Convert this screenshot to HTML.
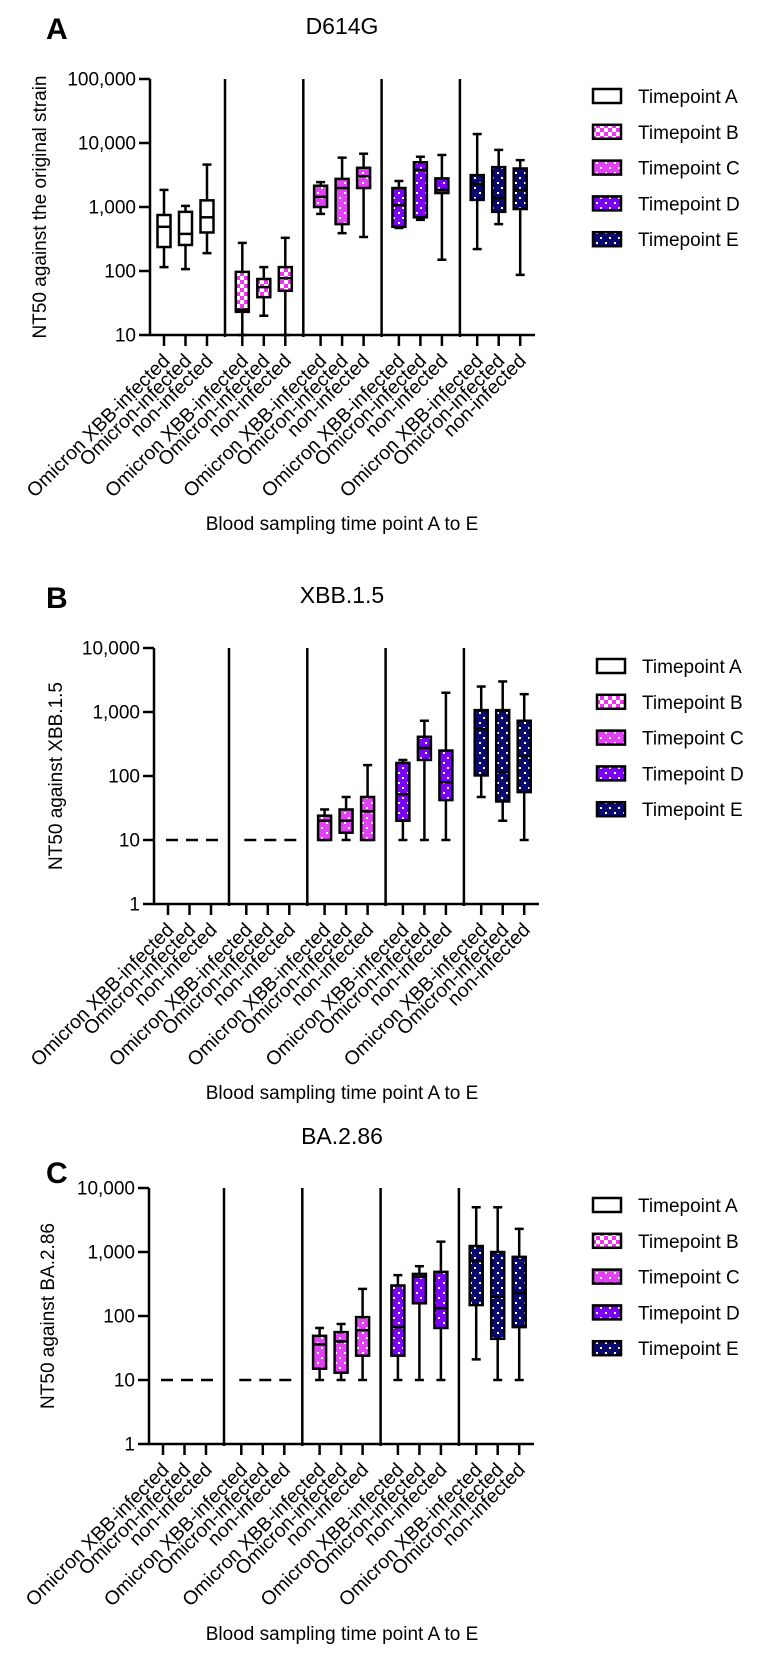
<!DOCTYPE html>
<html><head><meta charset="utf-8"><style>
html,body{margin:0;padding:0;background:#fff;}
svg{display:block;font-family:"Liberation Sans",Arial,sans-serif;}
</style></head><body>
<svg id="chart" width="764" height="1659" viewBox="0 0 764 1659" xmlns="http://www.w3.org/2000/svg">
<defs>
<pattern id="pat-checker" width="8" height="8" patternUnits="userSpaceOnUse">
<rect width="8" height="8" fill="#ffffff"/><rect width="4" height="4" fill="#f233f2"/><rect x="4" y="4" width="4" height="4" fill="#f233f2"/>
</pattern>
<pattern id="pat-c" width="9" height="10" patternUnits="userSpaceOnUse">
<rect width="9" height="10" fill="#e142f3"/><rect x="2" y="2" width="2" height="2" fill="#fff"/><rect x="6" y="7" width="2" height="2" fill="#fff"/>
</pattern>
<pattern id="pat-d" width="9" height="10" patternUnits="userSpaceOnUse">
<rect width="9" height="10" fill="#7a00f5"/><rect x="2" y="2" width="2" height="2" fill="#fff"/><rect x="6" y="7" width="2" height="2" fill="#fff"/>
</pattern>
<pattern id="pat-e" width="9" height="10" patternUnits="userSpaceOnUse">
<rect width="9" height="10" fill="#08086e"/><rect x="2" y="2" width="2" height="2" fill="#fff"/><rect x="6" y="7" width="2" height="2" fill="#fff"/>
</pattern>
</defs>
</svg>
<script>
// ---- data ----
const categories = ["Omicron XBB-infected","Omicron-infected","non-infected"];
const timepoints = ["Timepoint A","Timepoint B","Timepoint C","Timepoint D","Timepoint E"];
const panelLetters = ["A","B","C"];
const panelTitles = ["D614G","XBB.1.5","BA.2.86"];
const yTitles = ["NT50 against the original strain","NT50 against XBB.1.5","NT50 against BA.2.86"];
const xTitle = "Blood sampling time point A to E";
const tickLabelsA = ["10","100","1,000","10,000","100,000"];
const tickLabelsBC = ["1","10","100","1,000","10,000"];
const detectionLimit = 10;
// each box: [min, q1, median, q3, max]; null = below detection (dashed line)
const panelA = [
 [[115,237,490,750,1850],[107,255,380,840,1040],[190,400,690,1270,4600]],
 [[10,23,25,97,275],[20,39,56,75,115],[10,49,77,115,330]],
 [[780,1000,1440,2150,2450],[390,540,1980,2750,5900],[340,1980,3030,4100,6800]],
 [[470,490,1070,1980,2550],[630,690,3800,5000,6100],[150,1650,1850,2800,6500]],
 [[220,1290,2300,3150,13800],[540,840,1380,4200,7800],[87,930,1850,4000,5400]]
];
const panelB = [
 [null,null,null],
 [null,null,null],
 [[10,10,20,24,30],[10,13,20,30,47],[10,10,28,47,148]],
 [[10,20,52,160,178],[10,178,275,410,730],[10,42,80,250,2000]],
 [[47,102,540,1070,2500],[20,40,115,1070,3000],[10,56,205,730,1900]]
];
const panelC = [
 [null,null,null],
 [null,null,null],
 [[10,15,36,49,65],[10,13,40,56,75],[10,24,60,96,265]],
 [[10,24,67,300,435],[10,158,410,455,600],[10,65,133,490,1450]],
 [[21,148,720,1240,5000],[10,44,200,1000,5000],[10,67,230,840,2300]]
];
const panelData = [panelA, panelB, panelC];

// ---- layout ----
const NS = "http://www.w3.org/2000/svg";
const svg = document.getElementById("chart");
const fills = ["#ffffff","url(#pat-checker)","url(#pat-c)","url(#pat-d)","url(#pat-e)"];
const layouts = [
 {x0:150, yBot:335, minExp:1, letterY:39, titleY:34, legY:96, legX:593, xtY:530, ytX:46},
 {x0:154, yBot:904, minExp:0, letterY:608, titleY:603, legY:666, legX:597, xtY:1099, ytX:62},
 {x0:149, yBot:1444, minExp:0, letterY:1183, titleY:1144, legY:1205, legX:593, xtY:1640, ytX:54}
];
const DEC = 64, GROUPW = 78.3, BOXSP = 21.5, BOXW = 13, CAPW = 9;

function mk(tag, attrs, parent){
  const e = document.createElementNS(NS, tag);
  for (const k in attrs) e.setAttribute(k, attrs[k]);
  (parent||svg).appendChild(e);
  return e;
}

layouts.forEach((L, p) => {
  const g = mk("g", {});
  
  
  const yScale = v => L.yBot - DEC*(Math.log10(v) - L.minExp);
  const yTop = L.yBot - DEC*4;
  const xc = (gi, i) => L.x0 + 14 + GROUPW*gi + BOXSP*i;
  const xEnd = L.x0 + 385;

  const letter = mk("text", {x:46, y:L.letterY, "font-size":30, "font-weight":"bold"}, g);
  letter.textContent = panelLetters[p];
  
  
  const title = mk("text", {x:342, y:L.titleY, "font-size":23, "text-anchor":"middle"}, g);
  title.textContent = panelTitles[p];
  
  

  // y axis
  const ya = mk("line", {x1:L.x0, y1:yTop, x2:L.x0, y2:L.yBot+1, stroke:"#000", "stroke-width":2.5}, g);
  
  
  const labels = p === 0 ? tickLabelsA : tickLabelsBC;
  labels.forEach((lab, k) => {
    const v = Math.pow(10, L.minExp + k);
    const y = yScale(v);
    const t = mk("line", {x1:L.x0-11, y1:y, x2:L.x0, y2:y, stroke:"#000", "stroke-width":2.5}, g);
    
    
    const tl = mk("text", {x:L.x0-14, y:y+6.5, "font-size":19, "text-anchor":"end"}, g);
    tl.textContent = lab;
    
    
  });
  const yt = mk("text", {x:0, y:0, "font-size":19, "text-anchor":"middle", transform:`translate(${L.ytX},${yScale(Math.pow(10,L.minExp+2))}) rotate(-90)`}, g);
  yt.textContent = yTitles[p];
  
  

  // x axis
  const xa = mk("line", {x1:L.x0-1, y1:L.yBot, x2:xEnd, y2:L.yBot, stroke:"#000", "stroke-width":2.5}, g);
  
  
  for (let d = 1; d < 5; d++) {
    const x = L.x0 + 75 + GROUPW*(d-1);
    const dv = mk("line", {x1:x, y1:yTop, x2:x, y2:L.yBot+2, stroke:"#000", "stroke-width":2.5}, g);
    
    
  }
  const xt = mk("text", {x:342, y:L.xtY, "font-size":19, "text-anchor":"middle"}, g);
  xt.textContent = xTitle;
  
  

  const data = panelData[p];
  data.forEach((grp, gi) => {
    grp.forEach((b, i) => {
      const cx = xc(gi, i);
      const tk = mk("line", {x1:cx, y1:L.yBot, x2:cx, y2:L.yBot+11, stroke:"#000", "stroke-width":2.5}, g);
      
      
      const cl = mk("text", {x:0, y:0, "font-size":19.5, "text-anchor":"end", transform:`translate(${cx+7},${L.yBot+27}) rotate(-45)`}, g);
      cl.textContent = categories[i];
      
      
      if (b === null) return;
      const [mn, q1, md, q3, mx] = b;
      const bg = mk("g", {}, g);
      
      
      mk("line", {x1:cx, y1:yScale(mx), x2:cx, y2:yScale(mn), stroke:"#000", "stroke-width":2.5}, bg);
      mk("line", {x1:cx-CAPW/2, y1:yScale(mx), x2:cx+CAPW/2, y2:yScale(mx), stroke:"#000", "stroke-width":2.5}, bg);
      mk("line", {x1:cx-CAPW/2, y1:yScale(mn), x2:cx+CAPW/2, y2:yScale(mn), stroke:"#000", "stroke-width":2.5}, bg);
      const yq3 = yScale(q3), yq1 = yScale(q1);
      mk("rect", {x:cx-BOXW/2, y:yq3, width:BOXW, height:Math.max(1, yq1-yq3), fill:fills[gi], stroke:"#000", "stroke-width":2.5}, bg);
      mk("line", {x1:cx-BOXW/2, y1:yScale(md), x2:cx+BOXW/2, y2:yScale(md), stroke:"#000", "stroke-width":2.5}, bg);
    });
    if (grp.every(b => b === null)) {
      const y = yScale(detectionLimit);
      const dl = mk("line", {x1:xc(gi,0)-2, y1:y, x2:xc(gi,2)+10, y2:y, stroke:"#000", "stroke-width":2.5, "stroke-dasharray":"12,8"}, g);
      
      
    }
  });

  // legend
  timepoints.forEach((tp, k) => {
    const y = L.legY + 35.8*k;
    const lg = mk("g", {}, g);
    
    
    mk("rect", {x:L.legX, y:y-7, width:28, height:14, fill:fills[k], stroke:"#000", "stroke-width":2.5}, lg);
    const lt = mk("text", {x:L.legX+45, y:y+7, "font-size":19}, lg);
    lt.textContent = tp;
  });
});
</script>
</body></html>
